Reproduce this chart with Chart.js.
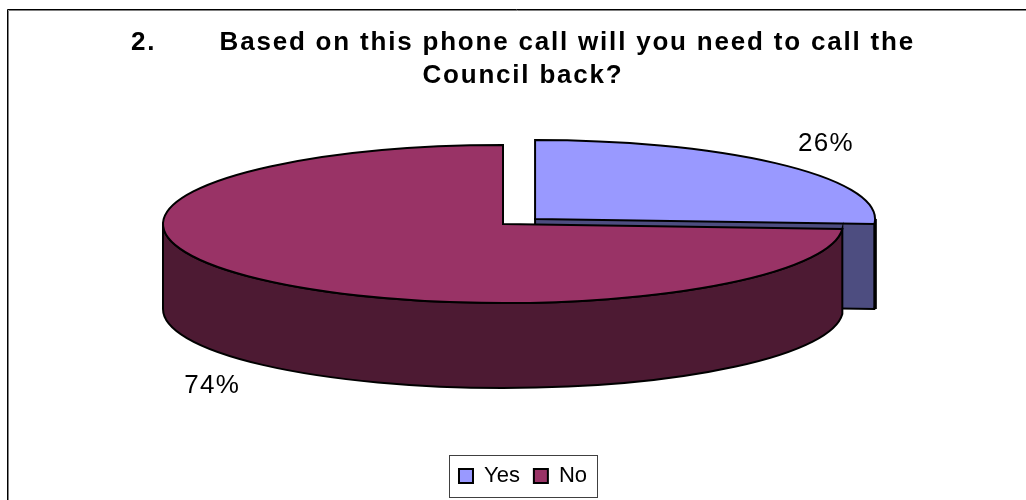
<!DOCTYPE html>
<html>
<head>
<meta charset="utf-8">
<script src="https://cdn.jsdelivr.net/npm/chart.js@4"></script>
<style>
    html, body { margin: 0; padding: 0; background: #ffffff; }
    canvas { display: block; }
</style>
</head>
<body>
<canvas id="pie" width="1026" height="500"></canvas>
<script>
const categories = ['Yes', 'No'];
const shares = [26, 74];
const sliceColors = ['#9999FF', '#993366'];
const wallColors = ['#4D4D80', '#4D1A33'];
const titleLines = ['2.       Based on this phone call will you need to call the', 'Council back?'];

const FONT = '"Liberation Sans", Arial, sans-serif';
const PIE_X = 503;
const PIE_Y = 224;
const RADIUS = 340;
const SQUASH = 79 / 340; // pie is laid out as a circle, then flattened
const DEPTH = 85;
const BACK_DROP = 2; // exploded slice sits a little lower than a true radial move

function sliceCenter(arc) {
    const half = (arc.startAngle + arc.endAngle) / 2;
    const off = (arc.options.offset || 0) / 4;
    return {
        x: arc.x + Math.cos(half) * off,
        y: arc.y + Math.sin(half) * off * SQUASH + (off ? BACK_DROP : 0)
    };
}

// side of one slice, only the part you can see from the front
function wallPath(ctx, arc) {
    const c = sliceCenter(arc);
    const r = arc.outerRadius;
    const ry = r * SQUASH;
    const from = Math.max(arc.startAngle, 0);
    const to = Math.min(arc.endAngle, Math.PI);
    ctx.beginPath();
    if (arc.startAngle < 0) {
        // the cut face at the end of the slice, seen past the front slice
        ctx.moveTo(c.x, c.y);
        ctx.lineTo(c.x, c.y + DEPTH);
        ctx.lineTo(c.x + r * Math.cos(to), c.y + DEPTH + ry * Math.sin(to));
        ctx.ellipse(c.x, c.y + DEPTH, r, ry, 0, to, from, true);
        ctx.lineTo(c.x + r, c.y);
    } else {
        ctx.ellipse(c.x, c.y, r, ry, 0, from, to);
        ctx.lineTo(c.x + r * Math.cos(to), c.y + DEPTH + ry * Math.sin(to));
        ctx.ellipse(c.x, c.y + DEPTH, r, ry, 0, to, from, true);
    }
    ctx.closePath();
}

function topPath(ctx, arc) {
    const c = sliceCenter(arc);
    ctx.beginPath();
    ctx.moveTo(c.x, c.y);
    ctx.ellipse(c.x, c.y, arc.outerRadius, arc.outerRadius * SQUASH, 0, arc.startAngle, arc.endAngle);
    ctx.closePath();
}

const pie3d = {
    id: 'pie3d',
    afterLayout(chart) {
        // pie sits left of the title and legend centre
        const a = chart.chartArea;
        a.left = 0;
        a.right = PIE_X * 2;
        a.top = 0;
        a.bottom = PIE_Y * 2;
        a.width = a.right;
        a.height = a.bottom;
        // the title is set with wide tracking
        const block = chart.titleBlock;
        if (!block.tracked) {
            const drawTitle = block.draw;
            block.draw = function () {
                chart.ctx.letterSpacing = '1.8px';
                drawTitle.call(block);
                chart.ctx.letterSpacing = '0px';
            };
            block.tracked = true;
        }
    },
    beforeDraw(chart) {
        const ctx = chart.ctx;
        ctx.save();
        ctx.lineWidth = 1;
        ctx.strokeStyle = '#000000';
        ctx.beginPath();
        ctx.moveTo(7.5, 500);
        ctx.lineTo(7.5, 9.5);
        ctx.lineTo(1026, 9.5);
        ctx.stroke();
        ctx.strokeStyle = '#808080';
        ctx.beginPath();
        ctx.moveTo(8.5, 500);
        ctx.lineTo(8.5, 10.5);
        ctx.lineTo(1026, 10.5);
        ctx.stroke();
        ctx.restore();
    },
    beforeDatasetDraw(chart, args) {
        const ctx = chart.ctx;
        args.meta.data.forEach((arc, i) => {
            const c = sliceCenter(arc);
            const off = (arc.options.offset || 0) > 0;
            ctx.save();
            ctx.fillStyle = wallColors[i];
            ctx.strokeStyle = '#000000';
            ctx.lineWidth = 2;
            wallPath(ctx, arc);
            ctx.fill();
            ctx.stroke();
            if (arc.startAngle < 0) {
                // heavier corner on the right of the back slice
                ctx.lineWidth = 3.5;
                ctx.beginPath();
                ctx.moveTo(c.x + arc.outerRadius, c.y);
                ctx.lineTo(c.x + arc.outerRadius, c.y + DEPTH + 5);
                ctx.stroke();
            }
            ctx.restore();

            // top face from the library's own arc element
            ctx.save();
            ctx.translate(arc.x, arc.y + (off ? BACK_DROP : 0));
            ctx.scale(1, SQUASH);
            ctx.translate(-arc.x, -arc.y);
            arc.draw(ctx);
            ctx.restore();

            ctx.save();
            ctx.strokeStyle = '#000000';
            ctx.lineWidth = 2;
            topPath(ctx, arc);
            ctx.stroke();
            ctx.restore();
        });
        return false;
    },
    afterDraw(chart) {
        const ctx = chart.ctx;
        ctx.save();
        ctx.fillStyle = '#000000';
        ctx.font = '26px ' + FONT;
        ctx.letterSpacing = '1.2px';
        ctx.textAlign = 'center';
        ctx.textBaseline = 'middle';
        chart.getDatasetMeta(0).data.forEach((arc, i) => {
            const c = sliceCenter(arc);
            const half = (arc.startAngle + arc.endAngle) / 2;
            const front = Math.sin(half) > 0;
            const x = c.x + arc.outerRadius * Math.cos(half);
            const y = c.y + arc.outerRadius * SQUASH * Math.sin(half) + (front ? DEPTH : 0);
            ctx.fillText(shares[i] + '%', x + Math.sign(Math.cos(half)) * 43, y + (front ? 23 : -21));
        });
        ctx.letterSpacing = '0px';
        // box round the legend
        const hits = chart.legend.legendHitBoxes;
        const first = hits[0];
        const last = hits[hits.length - 1];
        const mid = first.top + first.height / 2;
        ctx.strokeStyle = '#404040';
        ctx.lineWidth = 1;
        ctx.strokeRect(Math.round(first.left) - 9.5, Math.round(mid) - 20.5, Math.round(last.left + last.width - first.left) + 20, 42);
        ctx.restore();
    }
};

new Chart(document.getElementById('pie'), {
    type: 'pie',
    data: {
        labels: categories,
        datasets: [{
            data: shares,
            backgroundColor: sliceColors,
            borderWidth: 0,
            offset: [176, 0]
        }]
    },
    options: {
        responsive: false,
        animation: false,
        radius: RADIUS,
        layout: { padding: { left: 20, bottom: 3 } },
        plugins: {
            title: {
                display: true,
                text: titleLines,
                color: '#000000',
                font: { family: FONT, size: 26, weight: 'bold', lineHeight: 33 / 26 },
                padding: { top: 26, bottom: 0 }
            },
            legend: {
                display: true,
                position: 'bottom',
                labels: {
                    color: '#000000',
                    font: { family: FONT, size: 22 },
                    boxWidth: 14,
                    boxHeight: 14,
                    padding: 14,
                    generateLabels(chart) {
                        return Chart.overrides.pie.plugins.legend.labels.generateLabels(chart).map((item) => {
                            item.strokeStyle = '#000000';
                            item.lineWidth = 2;
                            return item;
                        });
                    }
                }
            },
            tooltip: { enabled: false }
        }
    },
    plugins: [pie3d]
});
</script>
</body>
</html>
